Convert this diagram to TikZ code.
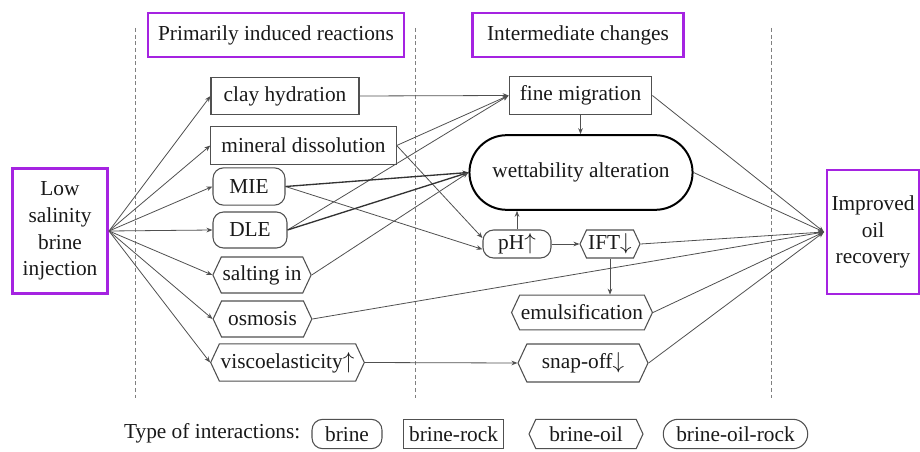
\documentclass[tikz,border=0pt]{standalone}
\usepackage{fontspec}
\setmainfont{Liberation Serif}
\usetikzlibrary{arrows.meta,shapes.misc,shapes.symbols}
\definecolor{framepurple}{RGB}{165,35,225}
\definecolor{linegray}{RGB}{80,80,80}

\begin{document}
\begin{tikzpicture}[x=0.75pt,y=-0.75pt,font=\fontsize{16}{20}\selectfont,text=black!90]

%
% Styles
%
\tikzstyle{frame}        = [draw=framepurple,line width=2.2pt,align=center,inner sep=2pt]
\tikzstyle{brine}        = [draw=linegray,line width=0.8pt,rounded corners=8pt,inner xsep=4pt,inner ysep=2pt,minimum height=27pt]
\tikzstyle{brinerock}    = [draw=linegray,line width=0.8pt,rectangle,inner xsep=4pt,minimum height=28pt]
\tikzstyle{brineoil}     = [draw=linegray,line width=0.8pt,signal,signal to=east and west,signal pointer angle=130,inner xsep=1pt,minimum height=27pt]
\tikzstyle{brineoilrock} = [draw=black,line width=1.5pt,rounded rectangle]
\tikzstyle{edge}         = [-{Stealth[length=4.5pt,width=3.5pt]},draw=linegray,line width=0.6pt]
\tikzstyle{boldedge}     = [edge,line width=1pt,draw=black!80]
\tikzstyle{divider}      = [densely dashed,draw=gray,line width=0.5pt]

\useasboundingbox (0,0) rectangle (920,452);

\foreach \xx in {135,415,771}
  \draw[divider] (\xx,28) -- (\xx,398);

% headers and ends
\node[frame,minimum width=192pt,minimum height=33pt] (hdrprim)  at (276,35)  {Primarily induced reactions};
\node[frame,minimum width=158pt,minimum height=33pt] (hdrinter) at (578,35)  {Intermediate changes};
\node[frame,minimum width=71pt,minimum height=94pt]  (lsbi)     at (60,231)  {Low\\salinity\\brine\\injection};
\node[frame,minimum width=69pt,minimum height=93pt]  (ior)      at (873,232) {Improved\\oil\\recovery};

% primarily induced reactions
\node[brinerock,minimum width=111pt] (clay)   at (285,96)      {clay hydration};
\node[brinerock,minimum width=139pt] (mindis) at (303.5,145.5) {mineral dissolution};
\node[brine,minimum width=54pt,minimum height=28pt] (mie) at (249,186.5) {MIE};
\node[brine,minimum width=55.5pt]    (dle)    at (250,230)     {DLE};
\node[brineoil,minimum width=73.5pt] (salt)   at (262,275)     {salting in};
\node[brineoil,minimum width=74pt]   (osm)    at (262.5,319)   {osmosis};
\node[brineoil,minimum width=112pt,minimum height=28pt] (visco) at (287.5,362.5) {viscoelasticity$\uparrow$};

% intermediate changes
\node[brinerock,minimum width=107pt] (finemig) at (580.5,95.5) {fine migration};
\node[brineoilrock,minimum width=174pt,minimum height=56pt] (wett) at (581,172.5) {wettability alteration};
\node[brine,minimum width=51pt,minimum height=21pt,inner ysep=0pt] (ph) at (517,244) {pH$\uparrow$};
\node[brineoil,minimum width=45pt,minimum height=21pt,inner ysep=0pt] (ift) at (610,244) {IFT$\downarrow$};
\node[brineoil,minimum width=105pt,minimum height=26pt] (emul) at (582,312.5) {emulsification};
\node[brineoil,minimum width=97.5pt,minimum height=28.5pt] (snap) at (583,363) {snap-off$\downarrow$};

% legend
\node[anchor=east] (legtitle) at (305,433) {Type of interactions:};
\node[brine,minimum width=52.5pt,minimum height=22pt,inner ysep=0pt]     (legbrine) at (347,434)   {brine};
\node[brinerock,minimum width=74pt,minimum height=22pt,inner ysep=0pt]   (legrock)  at (453.5,434) {brine-rock};
\node[brineoil,minimum width=85.5pt,minimum height=22pt,inner ysep=0pt]  (legoil)   at (586,434)   {brine-oil};
\node[brineoilrock,draw=linegray,line width=0.8pt,minimum width=115pt,minimum height=22pt,inner ysep=0pt] (legall) at (735.5,434) {brine-oil-rock};

\coordinate (src)  at (109,231);
\coordinate (goal) at (824,232);

% connections
\foreach \n in {clay,mindis,mie,dle,salt,osm,visco}
  \draw[edge] (src) -- (\n.west);

\draw[edge] (clay.east)   -- (finemig.west);
\draw[edge] (mindis.east) -- (finemig.west);
\draw[edge] (dle.east)    -- (finemig.west);
\draw[edge] (mindis.east) -- ([yshift=4.5pt]ph.west);
\draw[edge] (mie.east)    -- ([yshift=-4pt]ph.west);
\draw[boldedge] (mie.east) -- (wett.west);
\draw[boldedge] (dle.east) -- (wett.west);
\draw[edge] (salt.east)   -- (wett.west);
\draw[edge] (finemig.south) -- (finemig.south |- wett.north);
\draw[edge] (ph.north)    -- (ph.north |- wett.south);
\draw[edge] (ph.east)     -- (ift.west);
\draw[edge] (ift.south)   -- (ift.south |- emul.north);
\draw[edge] (visco.east)  -- (snap.west);

\foreach \n in {finemig,wett,ift,emul,snap,osm}
  \draw[edge] (\n.east) -- (goal);

\end{tikzpicture}
\end{document}
